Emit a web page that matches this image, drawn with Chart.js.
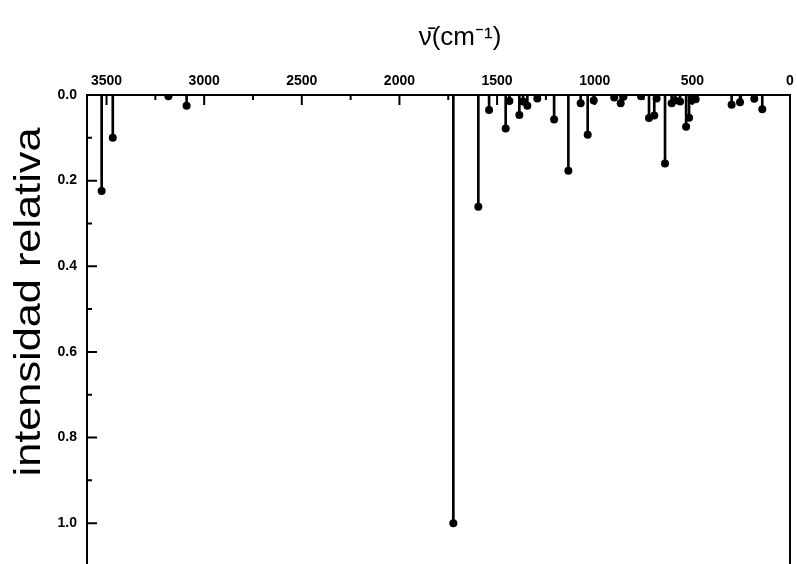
<!DOCTYPE html>
<html>
<head>
<meta charset="utf-8">
<script src="https://cdn.jsdelivr.net/npm/chart.js@4/dist/chart.umd.min.js"></script>
<style>
html,body{margin:0;padding:0;background:#fff;overflow:hidden;}
canvas{display:block;}
</style>
</head>
<body>
<canvas id="c" width="797" height="570"></canvas>
<script>
// Wavenumbers (cm^-1) of the calculated bands
const wavenumbers = [3525, 3468, 3183, 3090, 1724, 1596, 1541, 1456, 1437, 1386, 1367, 1345, 1294, 1208,
  1135, 1072, 1036, 1005, 900, 867, 853, 763, 722, 695, 683, 640, 606, 589, 563, 532, 517, 503, 483,
  299, 256, 183, 142];
// Relative intensities
const intensities = [0.224, 0.100, 0.003, 0.025, 1.000, 0.261, 0.035, 0.078, 0.014, 0.047, 0.015, 0.025, 0.008, 0.057,
  0.177, 0.019, 0.093, 0.013, 0.006, 0.019, 0.004, 0.003, 0.054, 0.048, 0.008, 0.160, 0.019, 0.012, 0.015, 0.074, 0.053, 0.012, 0.010,
  0.023, 0.017, 0.009, 0.033];
// Tick labels
const xTickValues = [3500, 3000, 2500, 2000, 1500, 1000, 500, 0];
const xMinorValues = [3250, 2750, 2250, 1750, 1250, 750, 250];
const yTickValues = [0.0, 0.2, 0.4, 0.6, 0.8, 1.0];
const yMinorValues = [0.1, 0.3, 0.5, 0.7, 0.9, 1.1];
const xTitle = 'ν̄(cm⁻¹)';
const yTitle = 'intensidad relativa';

const points = wavenumbers.map((w, i) => ({x: w, y: intensities[i]}));

const framePlugin = {
  id: 'frame',
  afterDraw(chart) {
    const ctx = chart.ctx;
    const a = chart.chartArea;
    const xs = chart.scales.x, ys = chart.scales.y;
    ctx.save();
    ctx.strokeStyle = '#000';
    ctx.lineWidth = 2;
    ctx.beginPath();
    ctx.moveTo(a.left, a.bottom + 10);
    ctx.lineTo(a.left, a.top);
    ctx.lineTo(a.right, a.top);
    ctx.lineTo(a.right, a.bottom + 10);
    ctx.stroke();
    // inward ticks
    ctx.beginPath();
    xTickValues.forEach(v => { const p = xs.getPixelForValue(v); ctx.moveTo(p, a.top); ctx.lineTo(p, a.top + 10); });
    xMinorValues.forEach(v => { const p = xs.getPixelForValue(v); ctx.moveTo(p, a.top); ctx.lineTo(p, a.top + 5); });
    yTickValues.forEach(v => { const p = ys.getPixelForValue(v); ctx.moveTo(a.left, p); ctx.lineTo(a.left + 10, p); });
    yMinorValues.forEach(v => { const p = ys.getPixelForValue(v); ctx.moveTo(a.left, p); ctx.lineTo(a.left + 5, p); });
    ctx.stroke();
    // axis titles
    ctx.fillStyle = '#000';
    ctx.font = '26px "Liberation Sans", Arial, sans-serif';
    ctx.textAlign = 'center';
    ctx.textBaseline = 'alphabetic';
    ctx.fillText(xTitle, 460, 45);
    ctx.translate(40, 302);
    ctx.rotate(-Math.PI / 2);
    ctx.scale(1.17, 1);
    ctx.font = '37px "Liberation Sans", Arial, sans-serif';
    ctx.fillText(yTitle, 0, 0);
    ctx.restore();
  }
};

new Chart(document.getElementById('c'), {
  type: 'bar',
  data: {
    datasets: [
      {
        type: 'scatter',
        data: points,
        pointRadius: 4,
        pointBackgroundColor: '#000',
        pointBorderColor: '#000',
        pointBorderWidth: 0,
        order: 0
      },
      {
        type: 'bar',
        data: points,
        backgroundColor: '#000',
        borderWidth: 0,
        barThickness: 2,
        order: 1
      }
    ]
  },
  options: {
    responsive: false,
    animation: false,
    layout: {padding: {left: 0, top: 0, right: 7, bottom: 4}},
    plugins: {legend: {display: false}, tooltip: {enabled: false}},
    scales: {
      x: {
        type: 'linear',
        position: 'top',
        reverse: true,
        min: 0,
        max: 3600,
        offset: false,
        grid: {display: false, drawTicks: false},
        border: {display: false},
        afterBuildTicks: s => { s.ticks = xTickValues.map(v => ({value: v})); },
        afterFit: s => { s.height = 95; s.paddingLeft = 0; s.paddingRight = 0; },
        ticks: {
          color: '#000',
          padding: 5,
          maxRotation: 0,
          autoSkip: false,
          font: {family: '"Liberation Sans", Arial, sans-serif', size: 14, weight: 'bold'},
          callback: v => String(v)
        }
      },
      y: {
        type: 'linear',
        position: 'left',
        reverse: true,
        min: 0,
        max: 1.1,
        grid: {display: false, drawTicks: false},
        border: {display: false},
        afterBuildTicks: s => { s.ticks = yTickValues.map(v => ({value: v})); },
        afterFit: s => { s.width = 87; s.paddingTop = 0; s.paddingBottom = 0; },
        ticks: {
          color: '#000',
          padding: 10,
          autoSkip: false,
          font: {family: '"Liberation Sans", Arial, sans-serif', size: 14, weight: 'bold'},
          callback: v => Number(v).toFixed(1)
        }
      }
    }
  },
  plugins: [framePlugin]
});
</script>
</body>
</html>
